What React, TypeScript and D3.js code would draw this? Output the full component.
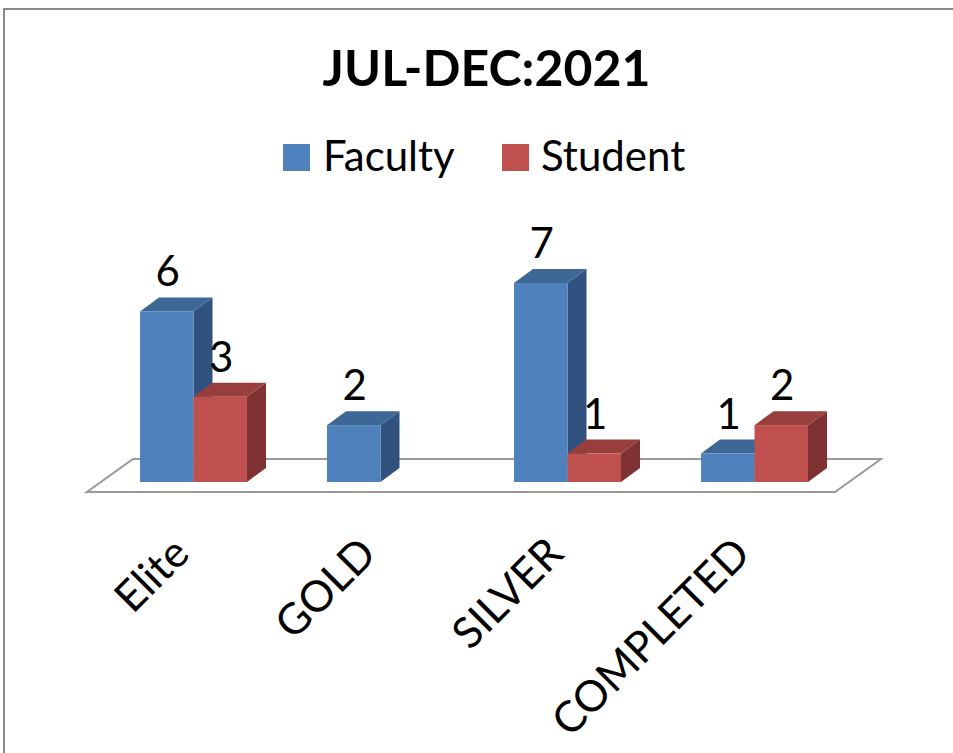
import React from "react";
import * as d3 from "d3";

const title = "JUL-DEC:2021";
const categories = ["Elite", "GOLD", "SILVER", "COMPLETED"];
const seriesNames = ["Faculty", "Student"];
const facultyValues: (number | null)[] = [6, 2, 7, 1];
const studentValues: (number | null)[] = [3, null, 1, 2];

const FONT = "Lato, 'Noto Sans', sans-serif";

const colors = {
  Faculty: { front: "#4F81BD", top: "#3D6896", side: "#31527E" },
  Student: { front: "#C0504D", top: "#983F3D", side: "#7F3231" },
} as Record<string, { front: string; top: string; side: string }>;

export default function App() {
  const W = 953;
  const H = 753;
  const depthX = 19;
  const depthY = 14;

  const x0 = d3.scaleBand<string>().domain(categories).range([100, 848]).padding(0);
  const x1 = d3.scaleBand<string>().domain(seriesNames).range([40, 147]).padding(0);
  const y = d3.scaleLinear().domain([0, 7]).range([482, 283]);

  const seriesData: Record<string, (number | null)[]> = {
    Faculty: facultyValues,
    Student: studentValues,
  };

  const [xl, xr] = x0.range();
  const y0 = y(0);
  const floor = [
    [xl - 13, y0 + 10],
    [xr - 13, y0 + 10],
    [xr + 33, y0 - 23],
    [xl + 33, y0 - 23],
  ];
  const line = d3.line();

  const bars: React.ReactNode[] = [];
  const labels: React.ReactNode[] = [];
  categories.forEach((c, ci) => {
    seriesNames.forEach((s) => {
      const v = seriesData[s][ci];
      if (v == null) return;
      const bx = (x0(c) as number) + (x1(s) as number);
      const bw = x1.bandwidth();
      const top = y(v);
      const bot = y(0);
      const col = colors[s];
      const topFace = line([
        [bx, top],
        [bx + depthX, top - depthY],
        [bx + bw + depthX, top - depthY],
        [bx + bw, top],
      ]) + "Z";
      const sideFace = line([
        [bx + bw, top],
        [bx + bw + depthX, top - depthY],
        [bx + bw + depthX, bot - depthY],
        [bx + bw, bot],
      ]) + "Z";
      bars.push(
        <g key={c + s}>
          <path d={sideFace} fill={col.side} />
          <path d={topFace} fill={col.top} />
          <rect x={bx} y={top} width={bw} height={bot - top} fill={col.front} />
        </g>
      );
      labels.push(
        <text
          key={"l" + c + s}
          x={bx + bw / 2 + 1}
          y={top - depthY - 11}
          textAnchor="middle"
          fontFamily={FONT}
          fontSize={42}
          fill="#000"
        >
          {v}
        </text>
      );
    });
  });

  const legendItems = [
    { name: "Faculty", sx: 283, tx: 323 },
    { name: "Student", sx: 502, tx: 541 },
  ];

  return (
    <svg
      width={W}
      height={H}
      style={{ position: "absolute", left: 0, top: 0, background: "#fff" }}
    >
      <rect x={0} y={0} width={W} height={H} fill="#fff" />
      <rect x={4} y={9} width={W + 20} height={H + 20} fill="#fff" stroke="#8a8a8a" strokeWidth={2} />
      <text
        x={486.5}
        y={86}
        textAnchor="middle"
        fontFamily={FONT}
        fontWeight="bold"
        fontSize={50}
        fill="#000"
      >
        {title}
      </text>
      {legendItems.map((d) => (
        <g key={d.name}>
          <rect x={d.sx} y={144} width={27} height={27} fill={colors[d.name].front} />
          <text x={d.tx} y={171} fontFamily={FONT} fontSize={42} fill="#000">
            {d.name}
          </text>
        </g>
      ))}
      <path d={line(floor as [number, number][]) + "Z"} fill="#fff" stroke="#999" strokeWidth={2} />
      {bars}
      {labels}
      {categories.map((c) => {
        const ax = (x0(c) as number) + x0.bandwidth() / 2 - 2;
        const ay = 556;
        return (
          <text
            key={"c" + c}
            x={ax}
            y={ay}
            textAnchor="end"
            transform={`rotate(-45 ${ax} ${ay})`}
            fontFamily={FONT}
            fontSize={43}
            fill="#000"
          >
            {c}
          </text>
        );
      })}
    </svg>
  );
}
